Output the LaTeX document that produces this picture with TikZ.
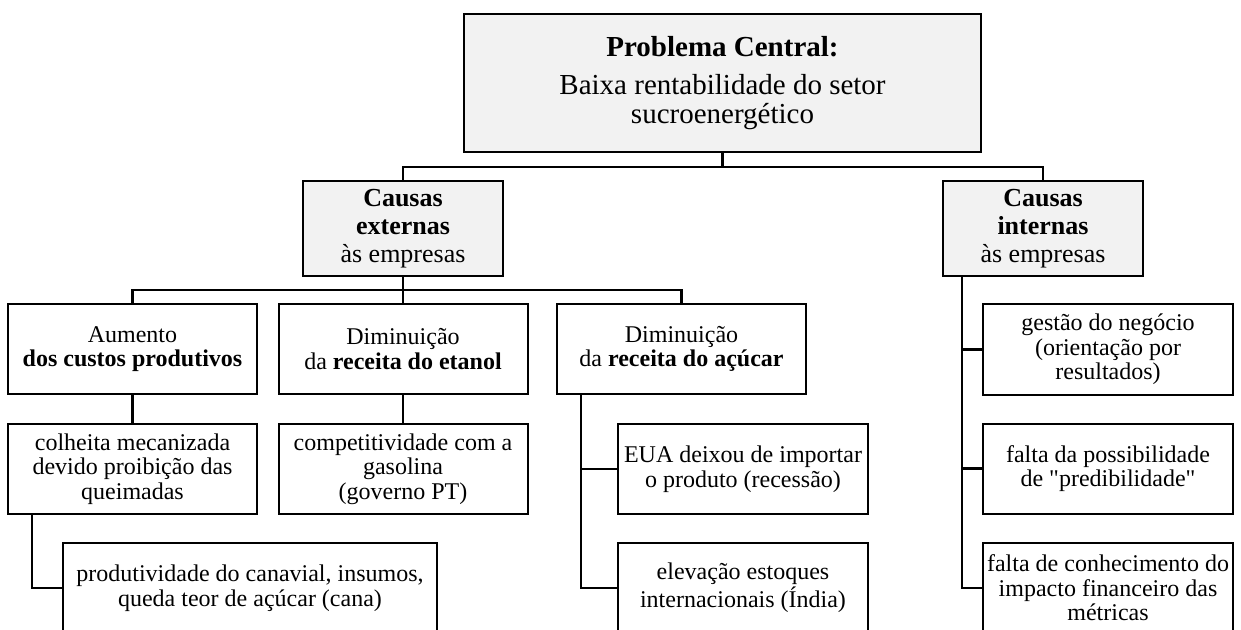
\documentclass[tikz,border=0pt]{standalone}
\usepackage{fontspec}
\setmainfont{Liberation Serif}
\definecolor{boxgrey}{HTML}{F2F2F2}
\tikzset{box/.style={draw,line width=1pt,align=center,inner sep=1pt,minimum width=124.5pt,minimum height=45pt,font=\fontsize{12}{12.3}\selectfont},
  causa/.style={box,fill=boxgrey,minimum width=100pt,minimum height=47.5pt,font=\fontsize{13}{14}\selectfont}}

\begin{document}
\begin{tikzpicture}[x=.5pt,y=-.5pt,line width=1.2pt]
\useasboundingbox (0,0) rectangle (1241,630);\clip (0,0) rectangle (1241,630);
\node[box,fill=boxgrey,minimum width=258.5pt,minimum height=69pt,font=\fontsize{14.5}{14.3}\selectfont] (top) at (722.5,83) {\textbf{Problema Central:}\\[4.5pt]Baixa rentabilidade do setor\\sucroenergético};
\node[causa] (ext) at (403,228.5) {\textbf{Causas}\\\textbf{externas}\\às empresas};
\node[causa] (int) at (1043,228.5) {\textbf{Causas}\\\textbf{internas}\\às empresas};
\node[box] (aum) at (132.5,349) {Aumento\\\textbf{dos custos produtivos}};
\node[box] (eta) at (403,349) {Diminuição\\da \textbf{receita do etanol}};
\node[box] (acu) at (681.5,349) {Diminuição\\da \textbf{receita do açúcar}};
\node[box] (colh) at (132.5,469) {colheita mecanizada\\devido proibição das\\queimadas};
\node[box] (comp) at (403,469) {competitividade com a\\gasolina\\(governo PT)};
\node[box,minimum width=187pt] (prod) at (250,588) {produtividade do canavial, insumos,\\queda teor de açúcar (cana)};
\node[box,minimum width=125pt] (eua) at (743,469) {EUA deixou de importar\\o produto (recessão)};
\node[box,minimum width=125pt] (est) at (743,588) {elevação estoques\\internacionais (Índia)};
\node[box,minimum width=125pt] (ges) at (1108,349.5) {gestão do negócio\\(orientação por\\resultados)};
\node[box,minimum width=125pt] (pred) at (1108,468.5) {falta da possibilidade\\de \textquotedbl predibilidade\textquotedbl};
\node[box,minimum width=125pt] (met) at (1108,588) {falta de conhecimento do\\impacto financeiro das\\métricas};
\draw (top.south) -- ++(0,14) -| (ext.north);\draw (top.south) -- ++(0,14) -| (int.north);
\draw (ext.south) -- ++(0,13) -| (aum.north);\draw (ext.south) -- (eta.north);\draw (ext.south) -- ++(0,13) -| (acu.north);
\draw (aum.south) -- (colh.north);\draw (eta.south) -- (comp.north);
\draw ([xshift=12.5pt]colh.south west) |- (prod.west);
\draw ([xshift=12.5pt]acu.south west) |- (eua.west);\draw ([xshift=12.5pt]acu.south west) |- (est.west);
\draw ([xshift=10pt]int.south west) |- (ges.west);\draw ([xshift=10pt]int.south west) |- (pred.west);\draw ([xshift=10pt]int.south west) |- (met.west);
\end{tikzpicture}
\end{document}
